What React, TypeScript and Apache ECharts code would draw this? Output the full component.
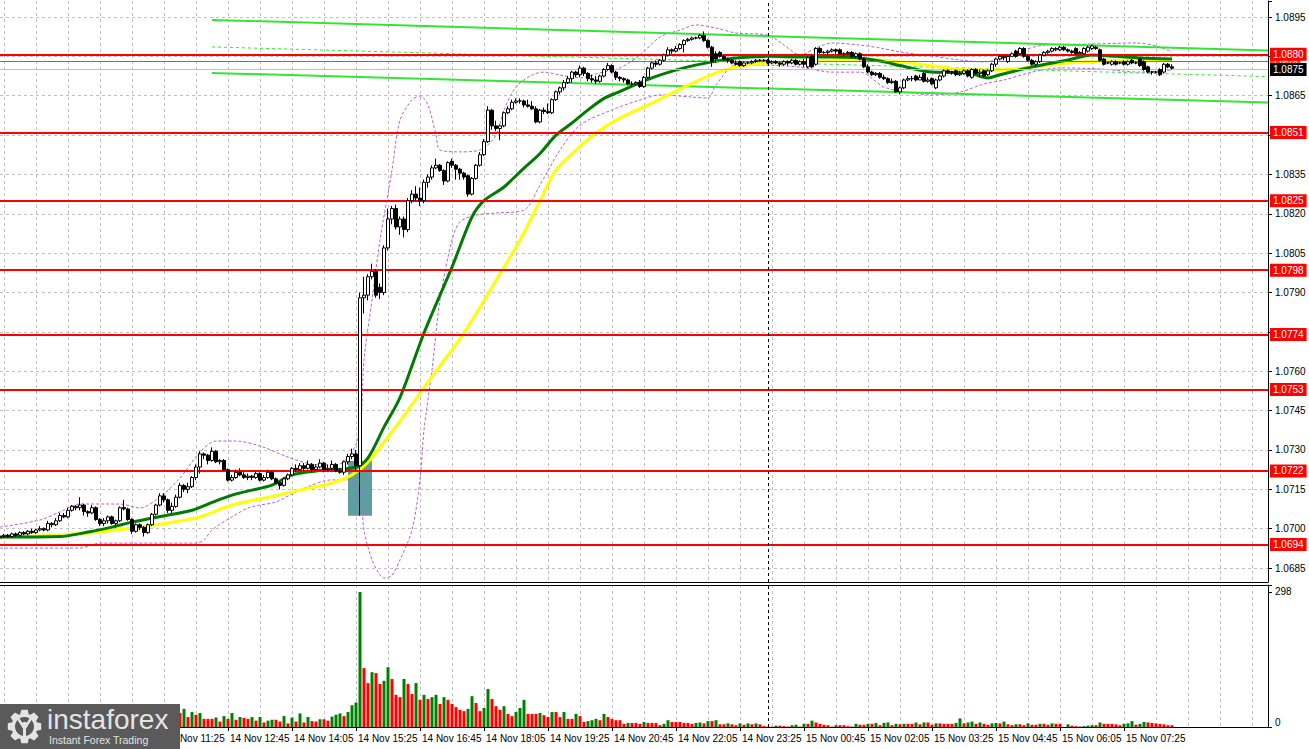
import React, { useEffect, useRef } from "react";
import * as echarts from "echarts";

// Prices are stored in pips above 1.0700
const BASE = 1.07;
const PIP = 0.0001;
const px = (p: number) => Math.round((BASE + p * PIP) * 100000) / 100000;

// 5-minute bars starting 14 Nov 08:00
const FIRST_BAR_MIN = 8 * 60;
const BAR_MIN = 5;
const N_CAT = 318;
const categories: string[] = [];
for (let i = 0; i < N_CAT; i++) {
  const t = FIRST_BAR_MIN + i * BAR_MIN;
  const day = t >= 1440 ? 15 : 14;
  const m = t % 1440;
  categories.push(
    `${day} Nov ${String(Math.floor(m / 60)).padStart(2, "0")}:${String(m % 60).padStart(2, "0")}`
  );
}
const LAST_BAR = 293;
const FIRST_LABEL_BAR = 41; // earlier labels sit under the logo

// [open, close, low, high] in pips above 1.0700
const candlePips: number[][] = [
  [-3.5,-3,-4,-2.5],[-3,-2.5,-3.5,-2],[-2.5,-3,-3.5,-2],[-3,-2,-3.5,-1.5],[-2,-2.5,-3,-1.5],[-2.5,-1.5,-3,-1],[-1.5,-2,-2.5,-1],[-2,-1,-2.5,-0.5],[-1,-1.5,-2,0],[-1.5,-0.5,-2,0],
  [-0.5,0,-1,1],[0,-0.5,-1,0.5],[-0.5,2,-1,3],[2,1.5,0.5,2.5],[1.5,3,1,4],[3,5,2.5,6],[5,4.5,4,6],[4.5,7,4,8],[7,8.5,6.5,9],[8.5,8,7,9],
  [8,9,7,12],[9,6.5,5,9.5],[6.5,6,4.5,7],[6,8,5.5,9],[8,3.5,3,8.5],[3.5,2,1,4],[2,3,1,4],[3,4.5,2,5],[4.5,2,1.5,5],[2,3,1,3.5],
  [3,8,2.5,8.5],[8,7.5,7,11],[7.5,3.5,3,8],[3.5,-1,-2,4],[-1,1.5,-1.5,2],[1.5,0.5,-0.5,2],[0.5,-1.5,-3,1],[-1.5,1.5,-2,2],[1.5,5.5,1,6],[5.5,9,5,9.5],
  [9,12.5,8.5,13.5],[12.5,11,10,13.5],[11,7,6,11.5],[7,8.5,6,10],[8.5,12,8,13],[12,16.5,11.5,17.5],[16.5,15,14,17],[15,16,13.5,17.5],[16,19.5,15.5,20],[19.5,23.5,18.5,24.5],
  [23.5,28.5,21,29.5],[28.5,28,26.5,29],[28,26,24.5,28.5],[26,29.5,25.5,31],[29.5,25.5,25,30],[25.5,26,24.5,26.5],[26,22.5,22,26.5],[22.5,18.5,18,23],[18.5,19.5,18,20.5],[19.5,21.5,19,22.5],
  [21.5,20.5,20,23],[20.5,19.5,19,21.5],[19.5,20,18.5,21],[20,19.5,18.5,20.5],[19.5,21,19,22],[21,18.5,18,21.5],[18.5,19.5,18,20.5],[19.5,21.5,19,22.5],[21.5,19,18.5,22],[19,17.5,17,19.5],
  [17.5,16.5,15,18],[16.5,19,16,19.5],[19,20.5,18.5,21],[20.5,23,20,23.5],[23,22.5,21.5,24.5],[22.5,24,22,25],[24,23,22,25],[23,24.5,22.5,26],[24.5,22.5,21.5,25],[22.5,23.5,22,24.5],
  [23.5,25,23,26.5],[25,22.5,21.5,25.5],[22.5,23,22,24.5],[23,24.5,22,26],[24.5,22,21.5,25],[22,21.5,21,23],[21.5,25.5,20.5,26],[25.5,27.5,24.5,28.5],[27.5,28.5,26.5,30.5],[28.5,24,22,30],
  [24,88,5,90],[88,89,82,96],[89,96,87,97],[96,98,95,101],[98,89,88,99],[92,90,87.5,93.5],[90,107,89,108],[107,118,106,122],[118,122,116,123],[122,115,114,123.5],
  [115,118,112,119],[118,114,111,119],[114,125,113,126],[125,127.5,124,129],[127.5,126,125,130.5],[126,125,123,130],[125,132,124,133],[132,134,130,135],[134,137.5,133,138.5],[137.5,138.5,137,141],
  [138.5,136.5,136,139],[136.5,132.5,131,137],[132.5,139.5,132,140],[140,138.5,137.5,141],[138.5,137,133,139],[137,135.5,133,137.5],[135.5,134,133,136],[134.5,127.5,126.5,135],[127.5,133.5,127,134],[133.5,138.5,133,139],
  [138.5,142.5,138,143.5],[142.5,147.5,142,148.5],[147.5,159.5,147,161],[159.5,153.5,152,160],[153.5,152.5,151.5,155.5],[152.5,153.5,148,154],[153.5,158.5,153,159],[158.5,160,158,161],[160,162.5,159.5,163.5],[162.5,163,162,164],
  [163,163,162,164],[163,161.5,160.5,163.5],[161.5,161,160.5,163.5],[161,160,159.5,163],[160,155,154.5,161],[155,159.5,154.5,160],[159.5,159,158,160.5],[159,158.5,158,162],[158.5,163.5,158,164],[163.5,166.5,163,167],
  [166.5,168,165.5,168.5],[168,170,167,171],[170,171.5,169.5,172.5],[171.5,174,170,174.5],[174,173,172,174.5],[173,175.5,172,176.5],[175.5,173.5,172.5,176],[173.5,171.5,170.5,174],[171.5,171,170,173],[171,170.5,169.5,172.5],
  [170.5,172.5,170,173],[172.5,175,172,175.5],[175,176.5,174.5,177.5],[176.5,174,173.5,177],[174,172,171,174.5],[172,171.5,170.5,172.5],[171.5,171,170,172],[171,169.5,169,171.5],[169.5,169.5,168.5,170.5],[169.5,170,169,170.5],
  [170,168.5,168,171],[168.5,172,168,172.5],[172,175.5,171.5,176],[175.5,177.5,175,178],[177.5,177,176,178.5],[177,178.5,176.5,179],[178.5,180.5,178,181],[180.5,182.5,180,183.5],[182.5,182,181,183],[182,183,181.5,184],
  [183,184.5,182.5,185],[184.5,186,181.5,186.5],[186,186.5,185.5,187],[186.5,187,186,187.5],[187,187,186.5,187.5],[187,188,186.5,188.5],[188,186,185.5,189.5],[186,183.5,183,186.5],[183.5,178,176,184],[181,179,177.5,182],
  [181.5,180,179.5,182],[180,179,178.5,180.5],[179,178.5,177.5,179.5],[178.5,177.5,177,179],[177.5,177,176.5,178.5],[178,176.5,176,178.5],[176.5,177.5,176,178],[177.5,177.5,177,178],[177.5,178,177,178.5],[178,178.5,177.5,179],
  [178.5,178.5,178,179],[178.5,178.5,178,179],[178.5,177.5,177,179],[177.5,178,177,178.5],[178,177.5,177,178.5],[177.5,177,176,178],[177,178,176.5,178.5],[178,177.5,176.5,178.5],[177.5,178.5,177,179],[178.5,177,176.5,179],
  [177,178,176.5,178.5],[178,177,176,179],[176,179.5,175.5,180],[180,176,175.5,181],[177,183,176.5,183.5],[183,181.5,181,183.5],[181.5,181.5,181,182],[181.5,182,180.5,182.5],[182,182.5,181.5,183],[182.5,182,181,183],
  [182.5,181,180.5,183],[181,181,180,181.5],[181,181.5,180.5,182],[181.5,180,179.5,182],[180,181,179.5,181.5],[181,179,178.5,181.5],[179,176,175.5,179.5],[176,174,173.5,177],[174,173,172.5,174.5],[173,173.5,172.5,174],
  [173.5,172,171.5,174],[172,171.5,171,173],[171.5,170,169.5,172],[170,170.5,169.5,171.5],[170.5,166.5,166,171],[166.5,168,165.5,168.5],[168,171,167.5,171.5],[171,171.5,170.5,172.5],[171.5,171.5,170.5,172.5],[172.5,171,170.5,173],
  [171,172,171,173],[173.5,170.5,170,174],[170.5,171,170,172],[171.5,169.5,169,172],[168,171,167.5,171.5],[171,172.5,170.5,173],[172.5,174.5,172,175],[174.5,174,173.5,175],[174,174,173,174.5],[174.5,173,172.5,175],
  [173,173.5,172.5,174.5],[173.5,174.5,173,175],[174.5,172.5,172,175],[172,175,171.5,175.5],[175,173.5,173,175.5],[173.5,174,172,175],[174.5,172.5,172,175],[173,174.5,172.5,175],[174.5,177,174,177.5],[177,179,176,179.5],
  [179,180,178.5,180.5],[179.5,180,178.5,180.5],[178,180,177.5,180.5],[180,181,180,181.5],[182,180,179.5,182.5],[181,183,180.5,183.5],[183,180,179.5,183.5],[180,178.5,178,180.5],[178.5,177,176.5,179],[177,178,176.5,178.5],
  [178,180.5,177.5,181],[180.5,181.5,180,182],[181.5,182,181,182.5],[182,183,181.5,183.5],[182.5,183,182,183.5],[182.5,183.5,182,184],[183.5,182.5,182,184],[182.5,182,181.5,183],[182,181.5,181,182.5],[183,181,180.5,183.5],
  [181,181.5,181,182],[181,183,180.5,183.5],[182,183.5,181.5,184],[183,184,182.5,184.5],[183.5,183,182.5,184],[182.5,178.5,178,183],[179,177,176.5,179.5],[177.5,177.5,177,178],[177,178,176.5,178.5],[178,177,176.5,178.5],
  [177.5,177.5,177,178],[178,177,176.5,178.5],[177,178,176.5,178.5],[178.5,177.5,177,179],[177.5,177.5,177,178],[179,176.5,176,179.5],[178,175,174.5,178.5],[176,174,173.5,176.5],[174,174,173,174.5],[174,174,173.5,174.5],
  [175,173,172.5,175.5],[174,177,173.5,177.5],[177,176,175.5,177.5],[176,175.5,175,177],
];

const volumes: number[] = [
  18,22,15,20,25,17,14,21,19,24,28,16,30,22,26,34,20,29,31,24,36,27,22,25,33,30,21,24,19,22,35,26,30,38,25,20,28,24,30,27,34,29,31,26,33,
  31,40,22,33,27,31,18,18,18,21,12,24,18,31,16,22,20,18,22,14,22,10,14,16,16,12,24,8,21,12,30,10,22,13,12,17,17,14,23,27,30,24,33,48,54,298,
  130,97,121,119,95,102,132,106,71,66,106,95,73,97,60,71,62,66,71,51,66,60,51,44,38,35,40,68,53,35,42,84,62,46,38,46,29,24,33,42,60,29,29,29,31,26,22,33,33,22,33,18,18,29,24,11,13,15,18,15,29,22,18,15,15,7,9,9,9,7,11,9,9,9,4,7,15,11,11,11,9,9,7,9,
  10,
  8,13,13,15,6,6,8,6,4,8,5,8,6,8,6,2,1,1,3,3,2,1,4,5,1,7,7,14,10,7,5,4,1,4,4,4,2,
  1,7,5,5,7,7,9,4,9,10,4,7,6,7,7,7,10,6,10,10,5,8,8,7,7,7,9,19,8,10,12,7,10,7,5,8,9,8,12,6,4,6,6,4,8,5,5,7,7,5,8,7,7,0,6,3,2,1,2,3,4,4,10,7,7,7,6,4,7,8,13,5,7,11,10,9,8,7,6,4,4,
];

// [bar index, pips above 1.0700]
const greenMa: number[][] = [
  [0,-3.2],[15,-3],[22,-1.3],[28,0.6],[33,2.5],[42,5.2],[48,7],[53,10],[58,12.8],[63,14.7],[68,16.6],[73,20.5],[79,22],[83,22.4],[89,23.5],
  [92,27],[96,38.7],[100,50],[106,74.6],[113,99.7],[118,118.8],[121,125],[126,130.2],[130,136],[135,143],[139,150],[143,154.6],[147,159.6],
  [151,164],[154,166],[163,171.8],[171,175.6],[178,177.9],[184,179.4],[192,180],[200,179.8],[208,179.8],[215,179.4],[221,177.9],[225,176.5],
  [233,174],[242,173.7],[247,171.8],[250,173],[258,176],[267,178.6],[273,180.5],[279,180],[285,179.4],[293,179],
];
const yellowMa: number[][] = [
  [0,-3.2],[15,-2.4],[25,-1.3],[33,0.3],[42,2.2],[50,4.5],[58,9],[67,12],[75,14.7],[83,17.4],[88,20.5],[92,25.4],[100,41],[108,58],
  [116,74.6],[126,99.7],[130,110],[135,125],[139,136.7],[144,144.3],[149,150.8],[154,155.7],[163,162.2],[171,168.3],[179,173.7],[184,176],
  [192,177.5],[200,177.9],[208,178.6],[215,179],[225,177.9],[233,176.4],[242,174.8],[250,174.8],[258,176],[267,177.5],[275,178.2],[283,178.6],[293,178.6],
];
const bandUpper: number[][] = [
  [0,0.6],[10,3.3],[15,6.4],[20,9.4],[30,9.4],[35,7.9],[40,12.1],[45,19.3],[50,29.2],[54,33.4],[59,33.4],[65,31.5],[72,27.3],[78,24.6],[84,24.2],
  [88,29.2],[90,37.6],[91,64.3],[93,87.2],[95,110],[98,136.7],[100,155.7],[103,163.4],[105,164.9],[107,161.5],[109,150],[110,144.3],[115,143.6],
  [120,144.3],[124,150],[126,159.6],[129,168.3],[133,172.9],[136,174],[140,172.9],[145,171.8],[150,173.7],[155,175.6],[160,180.5],[165,187.4],
  [170,190],[174,192],[179,190.8],[184,188.9],[192,188.1],[196,184.3],[200,180.5],[204,183.2],[208,185.1],[215,184.3],[220,183.2],[225,181.7],
  [233,180.1],[240,178.6],[246,177.9],[251,179.4],[256,182.4],[261,184.3],[273,184.7],[284,185.1],[289,184],[293,181.7],
];
const bandLower: number[][] = [
  [0,-7.4],[20,-7.4],[25,-5.5],[49,-5.5],[51,-4.3],[53,-0.5],[58,4.5],[62,7.9],[65,9],[69,10.2],[75,14.7],[83,18.6],[88,18.6],[90,14],
  [91,-0.5],[93,-11.9],[95,-17.7],[96,-18.8],[98,-17.7],[100,-11.9],[103,-0.5],[105,18.6],[106,37.6],[108,60.5],[110,87.2],[113,110],
  [115,116.9],[119,119.5],[124,120.3],[131,121.4],[135,131],[140,144.3],[145,153.8],[153,159.6],[160,163.4],[165,165.3],[173,164.5],
  [177,164.1],[179,169.1],[184,176.7],[190,176.7],[200,175.9],[208,174],[215,174],[221,168.3],[228,166],[233,165.3],[240,166.4],[246,169.5],
  [251,171],[258,174],[265,175.6],[275,175.2],[285,174],[293,174.8],
];
// trend channel drawn on the chart: [bar index, pips]
const channelUpper: number[][] = [[53,193.9],[317,182.2]];
const channelMiddle: number[][] = [[53,183.6],[317,172.3]];
const channelLower: number[][] = [[53,173.7],[317,162.4]];

const levelValues = [1.08808, 1.0851, 1.0825, 1.07985, 1.0774, 1.0753, 1.0722, 1.0694];
const levelLabels = ["1.0880", "1.0851", "1.0825", "1.0798", "1.0774", "1.0753", "1.0722", "1.0694"];
const askPrice = 1.0878;
const bidPrice = 1.0875;
const signalBox = { fromBar: 87, toBar: 93, top: 1.07258, bottom: 1.07049 };
const separatorBar = "15 Nov 00:00";

const PRICE_MIN = 1.067968;
const PRICE_MAX = 1.09011;
const LABEL_MIN = 1.0685;
const LABEL_STEP = 0.0015;
const VOL_MAX = 313.4;
const VOL_LABEL = 298;

const FONT = "Liberation Sans, Arial, sans-serif";
const GRID_GREY = "#c0c0c0";

export default function App() {
  const ref = useRef<HTMLDivElement>(null);
  useEffect(() => {
    if (!ref.current) return;
    const chart = echarts.init(ref.current, undefined, { renderer: "svg" });

    const candles = candlePips.map((c) => [px(c[0]), px(c[1]), px(c[2]), px(c[3])]);
    const volData = volumes.map((v, i) => ({
      value: v,
      itemStyle: { color: i === 0 || v > volumes[i - 1] ? "#008000" : "#ff0000" },
    }));
    const toLine = (arr: number[][]) => arr.map((p) => [p[0], px(p[1])]);
    const hiddenLabels = new Set(["1.0775", "1.0850", "1.0880"]);

    const boxLabel = (text: string, bg: string, size = 10) => ({
      show: true,
      position: "end",
      distance: 2,
      formatter: text,
      color: "#ffffff",
      backgroundColor: bg,
      fontSize: size,
      fontFamily: FONT,
      padding: [1, 3, 1, 3],
      lineHeight: size + 1,
    });

    const labelIdx = (i: number) => i % 16 === 9 && i >= FIRST_LABEL_BAR && i <= LAST_BAR;
    const tickIdx = (i: number) => i % 16 === 9 && i <= LAST_BAR;
    const gridIdx = (i: number) => i % 8 === 1;

    const cx = 24.5, cy = 726.5, rOut = 17, rIn = 13;
    const gear: number[][] = [];
    for (let i = 0; i < 8; i++) {
      const a = (i * Math.PI) / 4 - Math.PI / 2;
      gear.push([cx + rIn * Math.cos(a - 0.33), cy + rIn * Math.sin(a - 0.33)]);
      gear.push([cx + rOut * Math.cos(a - 0.19), cy + rOut * Math.sin(a - 0.19)]);
      gear.push([cx + rOut * Math.cos(a + 0.19), cy + rOut * Math.sin(a + 0.19)]);
      gear.push([cx + rIn * Math.cos(a + 0.33), cy + rIn * Math.sin(a + 0.33)]);
    }
    const LOGO_BG = "#5a5a5a";
    const LOGO_FG = "#e4e4e4";

    const option: any = {
      animation: false,
      backgroundColor: "#ffffff",
      grid: [
        { left: 0, right: 41, top: 1, height: 581, outerBoundsMode: "none", containLabel: false },
        { left: 0, right: 41, top: 1, height: 567.04, outerBoundsMode: "none", containLabel: false },
        { left: 0, right: 41, top: 585, height: 142, outerBoundsMode: "none", containLabel: false },
      ],
      xAxis: [
        {
          gridIndex: 0, type: "category", data: categories, boundaryGap: false,
          axisLine: { show: true, lineStyle: { color: "#000", width: 1 } },
          axisTick: { show: false }, axisLabel: { show: false },
          splitLine: { show: true, interval: gridIdx, lineStyle: { color: GRID_GREY, type: [3, 3], width: 1 } },
        },
        { gridIndex: 1, type: "category", data: categories, boundaryGap: false, show: false },
        {
          gridIndex: 2, type: "category", data: categories, boundaryGap: false, position: "bottom",
          axisLine: { show: true, lineStyle: { color: "#000", width: 1 } },
          axisTick: { show: true, interval: tickIdx, length: 4, lineStyle: { color: "#000" } },
          axisLabel: {
            show: true, interval: labelIdx, align: "left", margin: 6, color: "#000",
            fontSize: 10, fontFamily: FONT, padding: [0, 0, 0, 2],
          },
          splitLine: { show: true, interval: gridIdx, lineStyle: { color: GRID_GREY, type: [3, 3], width: 1 } },
        },
        {
          gridIndex: 2, type: "category", data: categories, boundaryGap: false, position: "top",
          axisLine: { show: true, lineStyle: { color: "#000", width: 1 } },
          axisTick: { show: false }, axisLabel: { show: false }, splitLine: { show: false },
        },
      ],
      yAxis: [
        {
          gridIndex: 0, type: "value", min: PRICE_MIN, max: PRICE_MAX, position: "right",
          axisLine: { show: true, lineStyle: { color: "#000", width: 1 } },
          axisTick: { show: false }, axisLabel: { show: false }, splitLine: { show: false },
        },
        {
          gridIndex: 1, type: "value", min: LABEL_MIN, max: PRICE_MAX, interval: LABEL_STEP, position: "right",
          axisLine: { show: false },
          axisTick: { show: true, length: 4, lineStyle: { color: "#000" } },
          axisLabel: {
            show: true, margin: 7, color: "#000", fontSize: 10, fontFamily: FONT,
            formatter: (v: number) => {
              if (v > 1.0896) return "";
              const s = v.toFixed(4);
              return hiddenLabels.has(s) ? "" : s;
            },
          },
          splitLine: { show: true, showMaxLine: false, lineStyle: { color: GRID_GREY, type: [3, 3], width: 1 } },
        },
        {
          gridIndex: 2, type: "value", min: 0, max: VOL_MAX, interval: VOL_LABEL, position: "right",
          axisLine: { show: true, lineStyle: { color: "#000", width: 1 } },
          axisTick: { show: true, length: 4, lineStyle: { color: "#000" } },
          axisLabel: {
            show: true, margin: 7, color: "#000", fontSize: 10, fontFamily: FONT,
            formatter: (v: number) => (v === 0 ? "{zero|0}" : v === VOL_LABEL ? String(VOL_LABEL) : ""),
            rich: { zero: { fontSize: 10, fontFamily: FONT, color: "#000", padding: [0, 0, 10, 0] } },
          },
          splitLine: { show: false },
        },
      ],
      series: [
        {
          name: "BB upper", type: "line", xAxisIndex: 0, yAxisIndex: 0, data: toLine(bandUpper),
          showSymbol: false, smooth: 0.3, z: 2, silent: true,
          lineStyle: { color: "#b45fd8", width: 1, type: [3, 2] },
        },
        {
          name: "BB lower", type: "line", xAxisIndex: 0, yAxisIndex: 0, data: toLine(bandLower),
          showSymbol: false, smooth: 0.3, z: 2, silent: true,
          lineStyle: { color: "#b45fd8", width: 1, type: [3, 2] },
        },
        {
          name: "Channel upper", type: "line", xAxisIndex: 0, yAxisIndex: 0, data: toLine(channelUpper),
          showSymbol: false, z: 2, silent: true, lineStyle: { color: "#33e633", width: 2 },
        },
        {
          name: "Channel middle", type: "line", xAxisIndex: 0, yAxisIndex: 0, data: toLine(channelMiddle),
          showSymbol: false, z: 2, silent: true, lineStyle: { color: "#33e633", width: 1, type: [3, 3] },
        },
        {
          name: "Channel lower", type: "line", xAxisIndex: 0, yAxisIndex: 0, data: toLine(channelLower),
          showSymbol: false, z: 2, silent: true, lineStyle: { color: "#33e633", width: 2 },
        },
        {
          name: "MA slow", type: "line", xAxisIndex: 0, yAxisIndex: 0, data: toLine(yellowMa),
          showSymbol: false, smooth: 0.3, z: 3, silent: true, lineStyle: { color: "#ffff00", width: 3 },
        },
        {
          name: "MA fast", type: "line", xAxisIndex: 0, yAxisIndex: 0, data: toLine(greenMa),
          showSymbol: false, smooth: 0.3, z: 3, silent: true, lineStyle: { color: "#007a00", width: 3 },
        },
        {
          name: "EURUSD", type: "candlestick", xAxisIndex: 0, yAxisIndex: 0, data: candles,
          barWidth: 3, z: 5, silent: true,
          itemStyle: { color: "#ffffff", color0: "#000000", borderColor: "#000000", borderColor0: "#000000", borderWidth: 1 },
          markArea: {
            silent: true,
            itemStyle: { color: "#5f9ea0", opacity: 1 },
            data: [[
              { xAxis: categories[signalBox.fromBar], yAxis: signalBox.top },
              { xAxis: categories[signalBox.toBar], yAxis: signalBox.bottom },
            ]],
          },
          markLine: {
            silent: true, symbol: ["none", "none"], animation: false, precision: 5,
            data: [
              { yAxis: askPrice, lineStyle: { color: "#ff4500", width: 1, type: "solid" }, label: boxLabel("1.0878", "#ff4500", 8) },
              { yAxis: bidPrice, lineStyle: { color: "#c0c0c0", width: 1, type: "solid" }, label: boxLabel("1.0875", "#000000") },
              ...levelValues.map((v, i) => ({
                yAxis: v,
                lineStyle: { color: "#ff0000", width: 2, type: "solid" },
                label: boxLabel(levelLabels[i], "#ff0000"),
              })),
              { xAxis: separatorBar, lineStyle: { color: "#000", width: 1, type: [3, 3] }, label: { show: false } },
            ],
          },
        },
        {
          name: "Volumes", type: "bar", xAxisIndex: 2, yAxisIndex: 2, data: volData, barWidth: 3, silent: true,
          markLine: {
            silent: true, symbol: ["none", "none"], animation: false,
            data: [{ xAxis: separatorBar, lineStyle: { color: "#000", width: 1, type: [3, 3] }, label: { show: false } }],
          },
        },
      ],
      graphic: {
        elements: [
          { type: "rect", z: 100, shape: { x: 0, y: 704, width: 180, height: 45 }, style: { fill: LOGO_BG } },
          { type: "polygon", z: 101, shape: { points: gear }, style: { fill: LOGO_FG } },
          { type: "circle", z: 102, shape: { cx, cy, r: 9.5 }, style: { fill: LOGO_BG } },
          { type: "circle", z: 103, shape: { cx, cy: cy - 1.5, r: 3.2 }, style: { fill: LOGO_FG } },
          { type: "polyline", z: 103, shape: { points: [[cx - 6.5, cy - 8], [cx, cy + 2], [cx + 6.5, cy - 8]] }, style: { stroke: LOGO_FG, lineWidth: 2.5, fill: "none" } },
          { type: "line", z: 103, shape: { x1: cx, y1: cy + 2, x2: cx, y2: cy + 12 }, style: { stroke: LOGO_FG, lineWidth: 3 } },
          {
            type: "text", z: 103, x: 47, y: 719,
            style: { text: "instaforex", fontSize: 28, fontFamily: FONT, fill: LOGO_FG, align: "left", verticalAlign: "middle" },
          },
          {
            type: "text", z: 103, x: 49, y: 740,
            style: { text: "Instant Forex Trading", fontSize: 10.5, fontFamily: FONT, fill: LOGO_FG, align: "left", verticalAlign: "middle" },
          },
        ],
      },
    };

    chart.setOption(option);
    return () => chart.dispose();
  }, []);

  return (
    <div
      ref={ref}
      style={{ position: "fixed", left: 0, top: 0, width: 1309, height: 749, background: "#ffffff" }}
    />
  );
}
